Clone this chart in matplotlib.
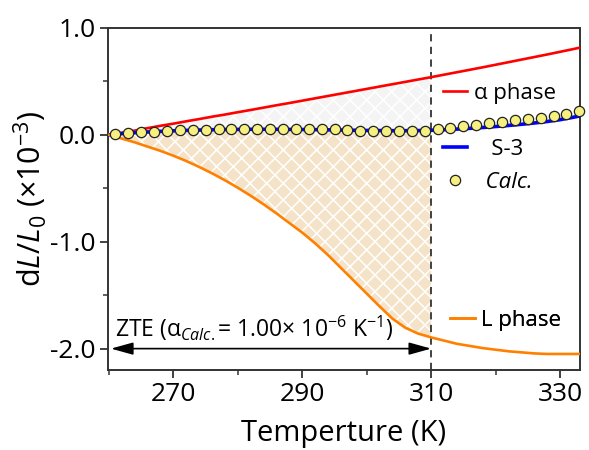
import numpy as np
import matplotlib
matplotlib.use('Agg')
import matplotlib.pyplot as plt
from matplotlib.lines import Line2D

plt.rcParams['font.family'] = ['Open Sans', 'DejaVu Sans']
plt.rcParams['mathtext.fontset'] = 'custom'
plt.rcParams['mathtext.rm'] = 'Open Sans'
plt.rcParams['mathtext.it'] = 'Open Sans:italic'
plt.rcParams['axes.unicode_minus'] = False
plt.rcParams['hatch.linewidth'] = 1.1

## data (dL/L0 in units of 1e-3)
temp = np.array([260, 262, 264, 266, 268, 270, 272, 274, 276, 278,
                 280, 282, 284, 286, 288, 290, 292, 294, 296, 298,
                 300, 302, 304, 306, 308, 310, 312, 314, 316, 318,
                 320, 322, 324, 326, 328, 330, 332, 333])

alpha_phase = np.array([0.0, 0.02, 0.04, 0.063, 0.085, 0.105, 0.127, 0.148, 0.17, 0.19,
                        0.212, 0.233, 0.255, 0.277, 0.298, 0.32, 0.342, 0.364, 0.386, 0.408,
                        0.43, 0.452, 0.474, 0.496, 0.518, 0.54, 0.563, 0.586, 0.609, 0.632,
                        0.656, 0.68, 0.704, 0.728, 0.752, 0.777, 0.802, 0.815])

s3 = np.array([0.0, 0.012, 0.02, 0.027, 0.033, 0.038, 0.042, 0.045, 0.048, 0.05,
               0.051, 0.052, 0.052, 0.052, 0.051, 0.05, 0.049, 0.047, 0.045, 0.043,
               0.041, 0.04, 0.039, 0.039, 0.04, 0.043, 0.048, 0.054, 0.061, 0.069,
               0.078, 0.088, 0.099, 0.111, 0.125, 0.142, 0.164, 0.176])

l_phase = np.array([0.0, -0.035, -0.07, -0.11, -0.15, -0.195, -0.245, -0.3, -0.36, -0.425,
                    -0.495, -0.57, -0.65, -0.735, -0.825, -0.915, -1.015, -1.125, -1.245, -1.365,
                    -1.485, -1.605, -1.72, -1.805, -1.86, -1.895, -1.925, -1.955, -1.975, -1.995,
                    -2.01, -2.025, -2.035, -2.045, -2.05, -2.05, -2.05, -2.05])

calc_temp = np.arange(261, 334, 2)
calc = np.array([0.011, 0.017, 0.023, 0.030, 0.036, 0.042, 0.045, 0.049, 0.054, 0.054,
                 0.058, 0.058, 0.058, 0.058, 0.058, 0.054, 0.054, 0.051, 0.049, 0.039,
                 0.036, 0.033, 0.033, 0.036, 0.039, 0.058, 0.064, 0.082, 0.092, 0.110,
                 0.120, 0.136, 0.148, 0.161, 0.179, 0.198, 0.222])

t_zte = 310
xticks = [270, 290, 310, 330]
yticks = [1.0, 0.0, -1.0, -2.0]

fig = plt.figure(figsize=(5.89, 4.5), dpi=100)
ax = fig.add_axes([0.1834, 0.1778, 0.8013, 0.76])

mask = temp <= t_zte
ax.fill_between(temp[mask], s3[mask], alpha_phase[mask], facecolor='#f4f4f4',
                edgecolor='white', hatch='xx', linewidth=0, zorder=1)
ax.fill_between(temp[mask], l_phase[mask], s3[mask], facecolor='#f5e3c9',
                edgecolor='white', hatch='xx', linewidth=0, zorder=1)

ax.axvline(t_zte, color='#333333', lw=1.3, ls=(0, (4, 3)), zorder=2)

ax.plot(temp, alpha_phase, color='#ff0000', lw=1.9, zorder=3)
ax.plot(temp, s3, color='#0000ff', lw=2.6, zorder=3)
ax.plot(temp, l_phase, color='#ff8000', lw=1.9, zorder=3)
ax.plot(calc_temp, calc, ls='none', marker='o', ms=7.4, mfc='#f5f07f',
        mec='#222222', mew=0.9, zorder=4, clip_on=False)

# ZTE range arrow + label
ax.annotate('', xy=(260.3, -2.0), xytext=(t_zte, -2.0),
            arrowprops=dict(arrowstyle='<|-|>,head_length=0.9,head_width=0.25',
                            color='black', lw=1.2, mutation_scale=15,
                            shrinkA=0, shrinkB=0), zorder=5)
ax.text(260.9, -1.89, 'ZTE (α$_{Calc.}$= 1.00× 10$^{-6}$ K$^{-1}$)',
        fontsize=16.5, va='baseline', ha='left', zorder=5)

ax.set_xlim(259.85, 333.1)
ax.set_ylim(-2.2, 1.0)
ax.set_xticks(xticks)
ax.set_xticks([260, 280, 300, 320], minor=True)
ax.set_yticks(yticks)
ax.set_yticklabels(['%.1f' % v for v in yticks])
ax.set_yticks([0.5, -0.5, -1.5], minor=True)
ax.tick_params(which='major', direction='out', length=6, width=1.3,
               labelsize=19, color='#333333', pad=3)
ax.tick_params(which='minor', direction='out', length=3.5, width=1.1, color='#333333')
for s in ax.spines.values():
    s.set_color('#333333')
    s.set_linewidth(1.4)

ax.set_xlabel('Temperture (K)', fontsize=21, labelpad=8)
ax.set_ylabel('d$L$/$L_0$ (×10$^{-3}$)', fontsize=22, labelpad=1)


def add_key(handle, label, x, y, italic=False):
    prop = {'size': 16}
    if italic:
        prop['style'] = 'italic'
    leg = ax.legend([handle], [label], loc='center left', bbox_to_anchor=(x, y),
                    frameon=False, handlelength=1.1, handletextpad=0.3,
                    borderpad=0, borderaxespad=0, prop=prop)
    ax.add_artist(leg)


add_key(Line2D([], [], color='#ff0000', lw=1.9), 'α phase', 0.709, 0.809)
add_key(Line2D([], [], color='#0000ff', lw=2.6), '   S-3', 0.709, 0.645)
add_key(Line2D([], [], ls='none', marker='o', ms=7.4, mfc='#f5f07f', mec='#222222', mew=0.9),
        '  Calc.', 0.709, 0.548, italic=True)
add_key(Line2D([], [], color='#ff8000', lw=1.9), 'L phase', 0.725, 0.146)

fig.savefig('out.png', dpi=100)
